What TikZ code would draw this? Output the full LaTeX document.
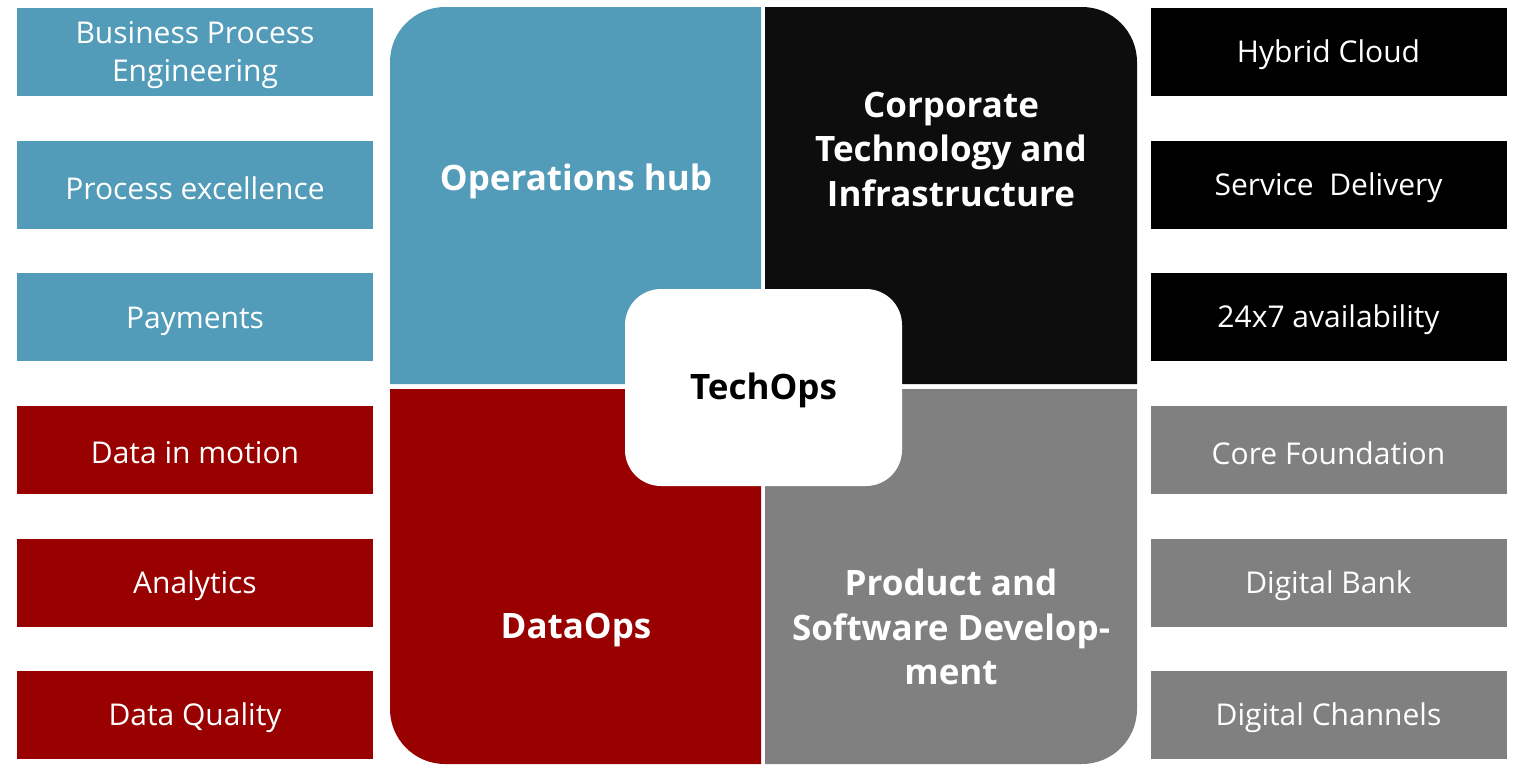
\documentclass[tikz,border=0pt]{standalone}
\usepackage{fontspec}
\setmainfont{Open Sans}
\definecolor{opblue}{RGB}{83,156,185}
\definecolor{ctiblack}{RGB}{13,13,13}
\definecolor{dored}{RGB}{153,0,0}
\definecolor{psgray}{RGB}{128,128,128}
\tikzset{
  itembox/.style={minimum width=356pt, minimum height=88pt, inner sep=0pt,
    text=white, align=center, font=\fontsize{30}{38}\selectfont},
  itemtext/.style={text=white, align=center, font=\fontsize{30}{38}\selectfont},
  quadlabel/.style={text=white, align=center, font=\fontsize{35}{44.5}\selectfont\bfseries}
}

\begin{document}
\begin{tikzpicture}[x=1pt,y=-1pt]
			%%%%% START %%%%%
			\useasboundingbox (0,0) rectangle (1519,764);
			
			% quadrants
			\fill[opblue] (390,384) -- (390,62) arc[start angle=180, end angle=270, radius=55] -- (761,7) -- (761,384) -- cycle;
			\fill[ctiblack] (765,384) -- (765,7) -- (1082,7) arc[start angle=270, end angle=360, radius=55] -- (1137,384) -- cycle;
			\fill[dored] (390,389) -- (761,389) -- (761,764) -- (445,764) arc[start angle=90, end angle=180, radius=55] -- cycle;
			\fill[psgray] (765,389) -- (1137,389) -- (1137,709) arc[start angle=0, end angle=90, radius=55] -- (765,764) -- cycle;
			
			\node[quadlabel] (ophub) at (576,181) {Operations hub};
			\node[quadlabel] (cti) at (951,149) {Corporate\\Technology and\\Infrastructure};
			\node[quadlabel] (dataops) at (576,630) {DataOps};
			\node[quadlabel] (psd) at (951,627) {Product and\\Software Develop-\\ment};
			
			% centre
			\node[fill=white, draw=white, line width=2pt, rounded corners=35pt, minimum width=275pt, minimum height=195pt] (techops) at (763.5,387.5) {};
			\node[font=\fontsize{35}{40}\selectfont\bfseries] (techopslabel) at (763.5,390) {TechOps};
			
			% left column
			\node[itembox, fill=opblue] (bpe) at (195,52) {};
			\node[itemtext] (bpelabel) at (195,55) {Business Process\\Engineering};
			\node[itembox, fill=opblue] (procexc) at (195,185) {};
			\node[itemtext] (procexclabel) at (195,188) {Process excellence};
			\node[itembox, fill=opblue] (payments) at (195,317) {};
			\node[itemtext] (paymentslabel) at (195,321) {Payments};
			\node[itembox, fill=dored] (motion) at (195,450) {};
			\node[itemtext] (motionlabel) at (195,453) {Data in motion};
			\node[itembox, fill=dored] (analytics) at (195,583) {};
			\node[itemtext] (analyticslabel) at (195,586) {Analytics};
			\node[itembox, fill=dored] (quality) at (195,715) {};
			\node[itemtext] (qualitylabel) at (195,718) {Data Quality};
			
			% right column
			\node[itembox, fill=black] (cloud) at (1328.5,52) {};
			\node[itemtext] (cloudlabel) at (1328.5,55) {Hybrid Cloud};
			\node[itembox, fill=black] (delivery) at (1328.5,185) {};
			\node[itemtext] (deliverylabel) at (1328.5,188) {Service~ Delivery};
			\node[itembox, fill=black] (avail) at (1328.5,317) {};
			\node[itemtext] (availlabel) at (1328.5,320) {24x7 availability};
			\node[itembox, fill=psgray] (core) at (1328.5,450) {};
			\node[itemtext] (corelabel) at (1328.5,453) {Core Foundation};
			\node[itembox, fill=psgray] (bank) at (1328.5,583) {};
			\node[itemtext] (banklabel) at (1328.5,586) {Digital Bank};
			\node[itembox, fill=psgray] (channels) at (1328.5,715) {};
			\node[itemtext] (channelslabel) at (1328.5,718) {Digital Channels};
			%%%%% END %%%%%
\end{tikzpicture}
\end{document}
